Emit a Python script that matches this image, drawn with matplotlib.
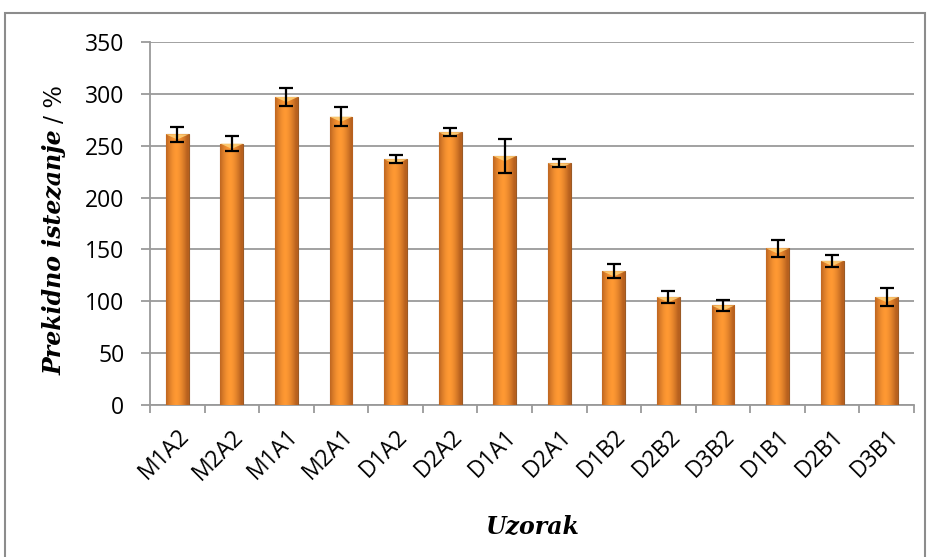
import matplotlib
matplotlib.use("Agg")
import matplotlib.pyplot as plt
import matplotlib.transforms as mtransforms
import numpy as np
from matplotlib.patches import Rectangle

categories = ["M1A2", "M2A2", "M1A1", "M2A1", "D1A2", "D2A2", "D1A1", "D2A1",
              "D1B2", "D2B2", "D3B2", "D1B1", "D2B1", "D3B1"]
values = [261, 252, 297, 278, 237, 263, 240, 233, 129, 104, 96, 151, 139, 104]
errors = [7, 7, 9, 9, 4, 4, 16, 4, 7, 6, 5, 8, 6, 9]
yticks = [0, 50, 100, 150, 200, 250, 300, 350]

W, H = 931, 557
fig = plt.figure(figsize=(W / 100, H / 100), dpi=100)
ax = fig.add_axes([150 / W, 1 - 405 / H, 764 / W, 363 / H])

# outer chart border
fig.patches.append(Rectangle((5 / W, -0.01), 920 / W, 1 - 13 / H + 0.01, transform=fig.transFigure,
                             fill=False, edgecolor="#8c8c8c", linewidth=1.5, zorder=0))

x = np.arange(len(categories))
bars = ax.bar(x, values, width=0.42, color="#F7921E", edgecolor="#9b5a25", linewidth=0.8, zorder=3)

# cylinder-like horizontal gradient clipped to each bar
grad = np.linspace(0, 1, 64)
cols = np.zeros((1, 64, 3))
base = np.array([1.0, 0.60, 0.20])
dark = np.array([0.72, 0.38, 0.12])
for i, g in enumerate(grad):
    t = np.clip(1 - (np.abs(g - 0.45) * 2.1) ** 1.6, 0, 1)
    cols[0, i] = dark + (base - dark) * t
for b in bars:
    bx, by = b.get_x(), b.get_y()
    w, h = b.get_width(), b.get_height()
    im = ax.imshow(cols, extent=[bx, bx + w, by, by + h], aspect="auto", zorder=3.5,
                   interpolation="bicubic")
    im.set_clip_path(b)
    ax.fill([bx, bx + w, bx + w / 2], [by + h, by + h, by + h - 5], color="#FFD27A",
            alpha=0.85, zorder=3.6, linewidth=0)

ax.errorbar(x, values, yerr=errors, fmt="none", ecolor="black", elinewidth=1.6,
            capsize=5, capthick=1.6, zorder=5)

ax.set_xlim(-0.5, len(categories) - 0.5)
ax.set_ylim(0, 350)
ax.set_yticks(yticks)
ax.yaxis.grid(True, color="#9a9a9a", linewidth=1.3, zorder=0)
ax.set_axisbelow(True)

for s in ["top", "right"]:
    ax.spines[s].set_visible(False)
for s in ["left", "bottom"]:
    ax.spines[s].set_color("#9a9a9a")
    ax.spines[s].set_linewidth(1.3)

ax.set_xticks(x)
ax.set_xticklabels(categories, rotation=45, ha="right", rotation_mode="anchor",
                   fontsize=16.5, family="Open Sans")
shift = mtransforms.ScaledTranslation(-5 / 72, 0, fig.dpi_scale_trans)
for lab in ax.get_xticklabels():
    lab.set_transform(lab.get_transform() + shift)
ax.set_xticks(np.arange(-0.5, len(categories)), minor=True)
ax.tick_params(axis="x", which="major", length=0, pad=14)
ax.tick_params(axis="x", which="minor", length=6, color="#9a9a9a", width=1.3)
ax.tick_params(axis="y", length=6.5, color="#9a9a9a", width=1.3, labelsize=16.5, pad=12)
for lab in ax.get_yticklabels():
    lab.set_family("Open Sans")

fig.text(532 / W, 1 - 527 / H, "Uzorak", fontsize=17, fontweight="bold", fontstyle="italic",
         family="DejaVu Serif", ha="center", va="center")

t1 = fig.text(55 / W, 1 - 375 / H, "Prekidno istezanje", rotation=90, fontsize=17,
              fontweight="bold", fontstyle="italic", family="DejaVu Serif",
              ha="center", va="bottom")
renderer = fig.canvas.get_renderer()
bb = t1.get_window_extent(renderer)
fig.text(55 / W, (bb.y1 + 6) / H, "/ %", rotation=90, fontsize=17,
         family="DejaVu Serif", ha="center", va="bottom")

fig.savefig("out.png", dpi=100)
